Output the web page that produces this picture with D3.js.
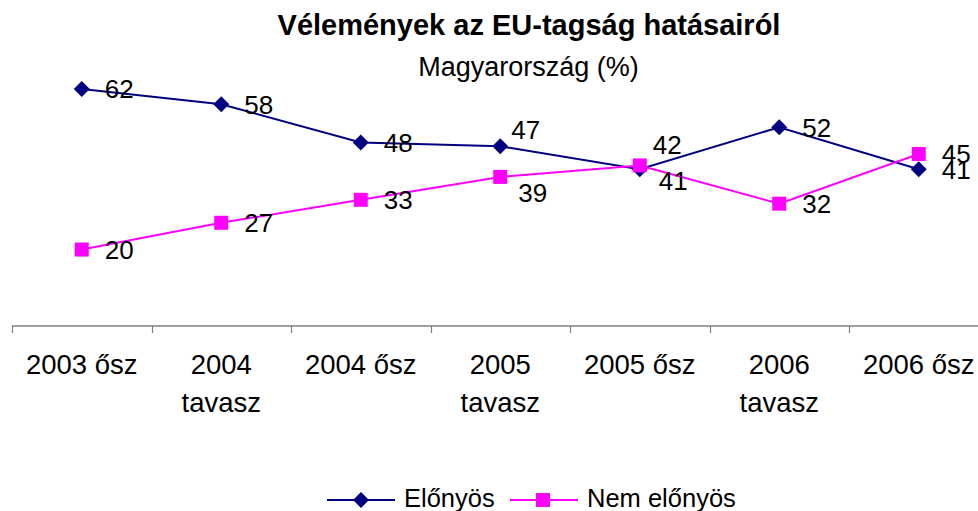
<!DOCTYPE html>
<html>
<head>
<meta charset="utf-8">
<script src="https://cdn.jsdelivr.net/npm/d3@7"></script>
<style>
  html, body { margin: 0; padding: 0; background: #fff; }
  svg { display: block; font-family: "Liberation Sans", Arial, sans-serif; }
</style>
</head>
<body>
<svg id="chart" width="978" height="511"></svg>
<script>
// ---- data ----
const categories = ["2003 ősz", "2004\ntavasz", "2004 ősz", "2005\ntavasz", "2005 ősz", "2006\ntavasz", "2006 ősz"];
const elonyos = [62, 58, 48, 47, 41, 52, 41];
const nemElonyos = [20, 27, 33, 39, 42, 32, 45];
const seriesNames = ["Előnyös", "Nem előnyös"];
const titleText = "Vélemények az EU-tagság hatásairól";
const subtitleText = "Magyarország (%)";

// label nudges (layout only, manual placements from the original)
const labelNudgeElonyos = [[0,0],[0,0],[0,0],[-12,-17],[-4,11],[0,0],[0,0]];
const labelNudgeNem = [[0,0],[0,0],[0,0],[-5,16],[-10,-21],[0,0],[0,0]];

const svg = d3.select("#chart");
const x = d3.scaleBand().domain(categories).range([12, 988.5]).padding(0);
const y = d3.scaleLinear().domain([0, 70]).range([326, 58.4]);
const cx = c => x(c) + x.bandwidth() / 2;

// title
svg.append("text").attr("x", 529).attr("y", 35).attr("text-anchor", "middle")
  .attr("font-size", 29).attr("font-weight", "bold").attr("fill", "#000").text(titleText);
svg.append("text").attr("x", 528.5).attr("y", 76).attr("text-anchor", "middle")
  .attr("font-size", 27).attr("fill", "#000").text(subtitleText);

// axis
const axisG = svg.append("g");
axisG.append("line").attr("x1", 12).attr("x2", 978).attr("y1", y(0)).attr("y2", y(0))
  .attr("stroke", "#808080").attr("stroke-width", 1.5);
axisG.selectAll("line.tick").data(categories).enter().append("line").attr("class", "tick")
  .attr("x1", d => Math.round(x(d)) + 0.5).attr("x2", d => Math.round(x(d)) + 0.5)
  .attr("y1", y(0)).attr("y2", y(0) + 7).attr("stroke", "#808080").attr("stroke-width", 1.2);
const labG = axisG.selectAll("text.cat").data(categories).enter().append("text").attr("class", "cat")
  .attr("text-anchor", "middle").attr("font-size", 27.5).attr("fill", "#000");
labG.each(function(d) {
  const parts = d.split("\n");
  const t = d3.select(this);
  parts.forEach((p, i) => {
    t.append("tspan").attr("x", cx(d)).attr("y", 374 + i * 37.7).text(p);
  });
});

// series
const series = [
  { name: seriesNames[0], values: elonyos, color: "#000080", shape: "diamond", nudge: labelNudgeElonyos },
  { name: seriesNames[1], values: nemElonyos, color: "#FF00FF", shape: "square", nudge: labelNudgeNem }
];
const line = d3.line().x((v, i) => cx(categories[i])).y(v => y(v));
const diamond = (g, px, py, r, color) => g.append("path")
  .attr("d", `M${px},${py - r}L${px + r},${py}L${px},${py + r}L${px - r},${py}Z`).attr("fill", color);
const square = (g, px, py, s, color) => g.append("rect")
  .attr("x", px - s / 2).attr("y", py - s / 2).attr("width", s).attr("height", s).attr("fill", color);

series.forEach(s => {
  const g = svg.append("g");
  g.append("path").datum(s.values).attr("d", line).attr("fill", "none")
    .attr("stroke", s.color).attr("stroke-width", 2);
});
series.forEach(s => {
  const g = svg.append("g");
  s.values.forEach((v, i) => {
    const px = cx(categories[i]), py = y(v);
    if (s.shape === "diamond") diamond(g, px, py, 8, s.color);
    else square(g, px, py, 14, s.color);
  });
});
series.forEach(s => {
  const g = svg.append("g");
  s.values.forEach((v, i) => {
    const px = cx(categories[i]), py = y(v);
    g.append("text").attr("x", px + 23 + s.nudge[i][0]).attr("y", py + 9.5 + s.nudge[i][1])
      .attr("font-size", 26).attr("fill", "#000").text(v);
  });
});

// legend
const leg = svg.append("g");
const legItems = [
  { x1: 327, x2: 395, mx: 361, tx: 404, s: series[0] },
  { x1: 510, x2: 578, mx: 543, tx: 587, s: series[1] }
];
legItems.forEach(it => {
  leg.append("line").attr("x1", it.x1).attr("x2", it.x2).attr("y1", 500).attr("y2", 500)
    .attr("stroke", it.s.color).attr("stroke-width", 2);
  if (it.s.shape === "diamond") diamond(leg, it.mx, 500, 8, it.s.color);
  else square(leg, it.mx, 500, 14, it.s.color);
  leg.append("text").attr("x", it.tx).attr("y", 507).attr("font-size", 25.5)
    .attr("fill", "#000").text(it.s.name);
});
</script>
</body>
</html>
